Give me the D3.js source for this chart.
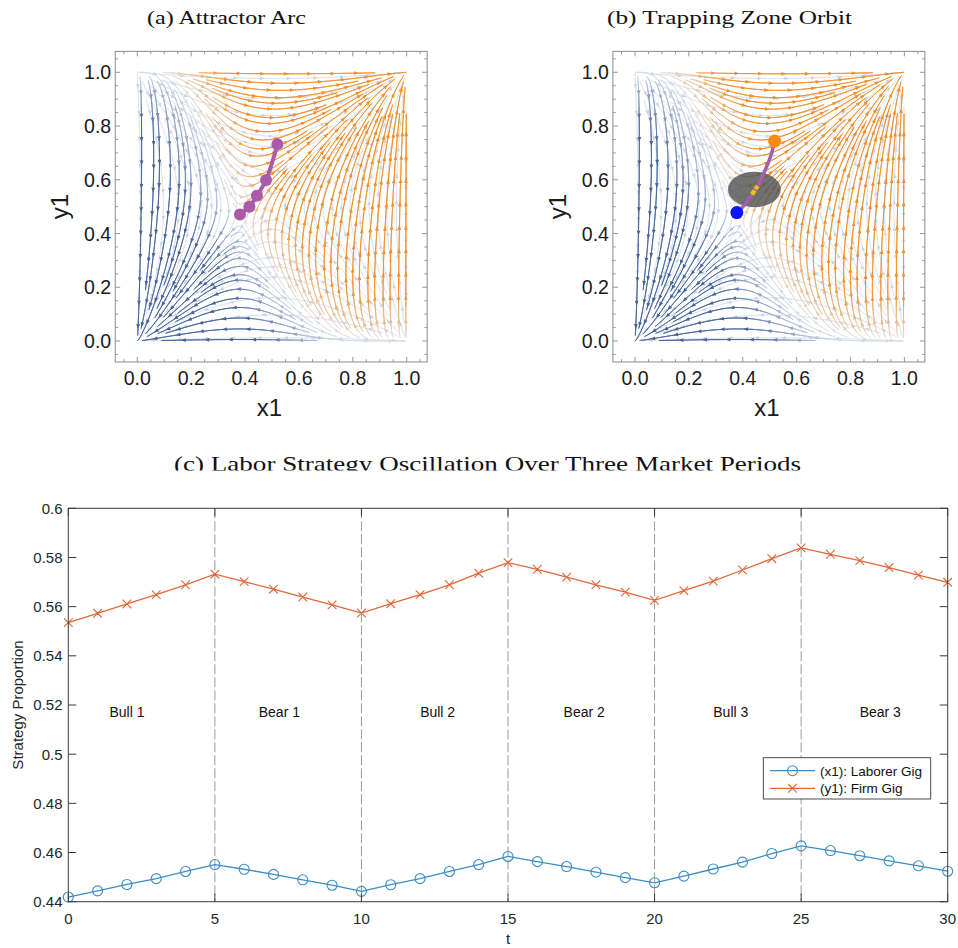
<!DOCTYPE html>
<html><head><meta charset="utf-8">
<script src="https://cdn.jsdelivr.net/npm/d3@7"></script>
<style>body{margin:0;background:#fff}svg{display:block}</style>
</head><body>
<svg id="c" width="958" height="948"></svg>
<script>
// ---------------- data ----------------
const tSteps = [0,1,2,3,4,5,6,7,8,9,10,11,12,13,14,15,16,17,18,19,20,21,22,23,24,25,26,27,28,29,30];
const laborerGig = [0.4419,0.4444,0.4470,0.4494,0.4523,0.4551,0.4532,0.4511,0.4489,0.4467,0.4442,0.4469,0.4494,0.4523,0.4551,0.4584,0.4563,0.4543,0.4520,0.4498,0.4477,0.4504,0.4533,0.4561,0.4596,0.4627,0.4608,0.4587,0.4566,0.4546,0.4524];
const firmGig = [0.5535,0.5573,0.5611,0.5649,0.5689,0.5732,0.5702,0.5671,0.5639,0.5607,0.5574,0.5612,0.5649,0.5689,0.5736,0.5779,0.5752,0.5720,0.5689,0.5659,0.5626,0.5665,0.5704,0.5749,0.5795,0.5839,0.5813,0.5787,0.5759,0.5728,0.5699];
const periodBounds = [5,10,15,20,25];
const periodLabels = ["Bull 1","Bear 1","Bull 2","Bear 2","Bull 3","Bear 3"];
const periodLabelT = [2.0,7.2,12.6,17.6,22.6,27.7];
const periodLabelY = 0.517;
const xTicksC = [0,5,10,15,20,25,30];
const yTicksC = [0.44,0.46,0.48,0.5,0.52,0.54,0.56,0.58,0.6];
const seriesNames = ["(x1): Laborer Gig","(y1): Firm Gig"];

const phaseTicks = [0,0.2,0.4,0.6,0.8,1.0];
const phaseTickLabels = ["0.0","0.2","0.4","0.6","0.8","1.0"];
const phaseMinorTicks = [-0.05,0.05,0.1,0.15,0.25,0.3,0.35,0.45,0.5,0.55,0.65,0.7,0.75,0.85,0.9,0.95,1.05];

const arcX = [0.381,0.416,0.444,0.478,0.520];
const arcY = [0.471,0.500,0.541,0.599,0.732];
const orbitX = [0.378,0.405,0.429,0.447,0.478,0.503,0.518];
const orbitY = [0.478,0.505,0.537,0.562,0.624,0.686,0.742];
const orbitStart = [0.378,0.478];
const orbitEnd = [0.518,0.744];
const trapZone = [0.443,0.564,0.098,0.066]; // cx, cy, rx, ry
const trapMarkX = [0.434,0.455];
const trapMarkY = [0.545,0.577];

// vector fields of the replicator dynamics (stream plot)
const GAIN = 2.4;
function mainField(x,y){
  const y0 = 0.445 + (0.40 - x) * (x < 0.40 ? 0.7 : 0.5);
  const x0 = 0.38 + 0.35 * Math.max(0, y - 0.5);
  return [x*(1-x)*(y-y0), GAIN*y*(1-y)*(x-x0)];
}
function paleField(x,y){ return [x*(1-x)*(y-0.5), y*(1-y)*(x-0.5)]; }

// ---------------- streamline engine ----------------
function computeStreamlines(field, dsep, dtest, h, maxSteps, minSpeed, seedRatio){
  const cell = dsep, grid = new Map();
  const key=(i,j)=>i*4096+j, ci=v=>Math.floor((v+0.05)/cell);
  function near(x,y,d){
    const i0=ci(x), j0=ci(y), r=Math.ceil(d/cell);
    for(let i=i0-r;i<=i0+r;i++) for(let j=j0-r;j<=j0+r;j++){
      const a=grid.get(key(i,j)); if(!a) continue;
      for(let n=0;n<a.length;n+=2){const dx=a[n]-x, dy=a[n+1]-y; if(dx*dx+dy*dy<d*d) return true;}
    }
    return false;
  }
  function add(x,y){const kk=key(ci(x),ci(y)); let a=grid.get(kk); if(!a){a=[];grid.set(kk,a);} a.push(x,y);}
  function unit(x,y){const f=field(x,y); const m=Math.hypot(f[0],f[1]); return [f[0]/m,f[1]/m,m];}
  function trace(x,y,sign){
    const pts=[]; let px=x,py=y;
    for(let s=0;s<maxSteps;s++){
      const a=unit(px,py); if(!(a[2]>minSpeed)) break;
      const b=unit(px+sign*a[0]*h/2, py+sign*a[1]*h/2); if(!(b[2]>minSpeed*0.5)) break;
      if(a[0]*b[0]+a[1]*b[1]<0.5) break;
      const nx=px+sign*b[0]*h, ny=py+sign*b[1]*h;
      if(nx<-0.001||nx>1.001||ny<-0.001||ny>1.001) break;
      if(near(nx,ny,dtest)) break;
      pts.push([nx,ny]); px=nx; py=ny;
    }
    return pts;
  }
  const lines=[], n=Math.round(1/dsep);
  for(let i=0;i<=n;i++) for(let j=0;j<=n;j++){
    const sx=Math.min(0.997,Math.max(0.003,i/n)), sy=Math.min(0.997,Math.max(0.003,j/n));
    if(near(sx,sy,dsep*seedRatio)) continue;
    const f=trace(sx,sy,1), b=trace(sx,sy,-1);
    const pts=b.reverse().concat([[sx,sy]],f);
    if(pts.length<8) continue;
    for(const p of pts) add(p[0],p[1]);
    lines.push(pts);
  }
  return lines;
}
function basin(field,x,y){
  let px=x,py=y;
  for(let s=0;s<3000;s++){
    const f=field(px,py), m=Math.hypot(f[0],f[1]); if(m<1e-7) break;
    px=Math.min(1,Math.max(0,px+f[0]/m*0.004)); py=Math.min(1,Math.max(0,py+f[1]/m*0.004));
    if(px+py<0.06) return 0; if(px+py>1.94) return 1;
  }
  return px+py>1?1:0;
}
// saddle + stable manifold (separatrix) for colour shading
function jac(field,x,y){
  const e=1e-5, f=field(x,y), fx=field(x+e,y), fy=field(x,y+e);
  return [f,(fx[0]-f[0])/e,(fy[0]-f[0])/e,(fx[1]-f[1])/e,(fy[1]-f[1])/e];
}
function findSaddle(field,x,y){
  for(let k=0;k<40;k++){
    const [f,a,b,c,d]=jac(field,x,y), det=a*d-b*c; if(Math.abs(det)<1e-12) break;
    x-=( d*f[0]-b*f[1])/det; y-=(-c*f[0]+a*f[1])/det;
  }
  return [x,y];
}
const saddle=findSaddle(mainField,0.38,0.47);
function stableManifold(field,s){
  const [f,a,b,c,d]=jac(field,s[0],s[1]);
  const tr=a+d, det=a*d-b*c, lam=tr/2-Math.sqrt(tr*tr/4-det);
  let vx=b, vy=lam-a; const m=Math.hypot(vx,vy); vx/=m; vy/=m;
  const pts=[s];
  for(const sg of [1,-1]){
    let px=s[0]+sg*vx*0.004, py=s[1]+sg*vy*0.004;
    for(let k=0;k<1500;k++){
      const g=field(px,py), mm=Math.hypot(g[0],g[1]); if(mm<1e-9) break;
      px-=g[0]/mm*0.002; py-=g[1]/mm*0.002;
      if(px<0||px>1||py<0||py>1) break;
      pts.push([px,py]);
    }
  }
  return pts;
}
const sepPts=stableManifold(mainField,saddle);
const DG=120, distGrid=new Float32Array((DG+1)*(DG+1));
for(let i=0;i<=DG;i++) for(let j=0;j<=DG;j++){
  const x=i/DG, y=j/DG; let md=9;
  for(let k=0;k<sepPts.length;k+=2){const dx=sepPts[k][0]-x, dy=sepPts[k][1]-y, dd=dx*dx+dy*dy; if(dd<md) md=dd;}
  distGrid[i*(DG+1)+j]=Math.sqrt(md);
}
function sepDist(x,y){
  const i=Math.max(0,Math.min(DG,Math.round(x*DG))), j=Math.max(0,Math.min(DG,Math.round(y*DG)));
  return distGrid[i*(DG+1)+j];
}

const LEVELS=10;
const mainLines = computeStreamlines(mainField, 0.027, 0.011, 0.003, 900, 0.0012, 0.7).map(pts=>{
  const last=pts[pts.length-1];
  return {pts, hue:basin(mainField,last[0],last[1])};
});
const paleLines = computeStreamlines(paleField, 0.034, 0.015, 0.003, 900, 0.0012, 0.9);
const hueBase=["#45649b","#f0902a"], paleCol="#e3e8ef";
const levelColor=(h,l)=>d3.interpolateRgb(paleCol,hueBase[h])(0.08+0.92*l/(LEVELS-1));
function levelOf(x,y){
  const s=Math.max(0,Math.min(1,(sepDist(x,y)-0.015)/0.17));
  return Math.round(Math.pow(s,0.85)*(LEVELS-1));
}

// ---------------- drawing ----------------
const svg=d3.select("#c");
const SANS="'Liberation Sans', Arial, Helvetica, sans-serif";
const SERIF="'Liberation Serif','DejaVu Serif',serif";

function phasePanel(x0px, title, titleX, titleLen, extras){
  const xs=d3.scaleLinear().domain([0,1]).range([x0px, x0px+269.4]);
  const ys=d3.scaleLinear().domain([0,1]).range([341,72.3]);
  const g=svg.append("g");
  const fx0=xs(-0.082), fx1=xs(1.076), fy0=ys(1.078), fy1=ys(-0.078);
  const line=d3.line().x(p=>xs(p[0])).y(p=>ys(p[1]));
  // pale stream layer
  let pd="", pa="";
  for(const pts of paleLines){
    pd+=line(pts);
    let acc=10;
    for(let i=1;i<pts.length-2;i++){
      const X0=xs(pts[i-1][0]),Y0=ys(pts[i-1][1]),X1=xs(pts[i][0]),Y1=ys(pts[i][1]);
      const sg=Math.hypot(X1-X0,Y1-Y0); acc+=sg;
      if(acc>=26){acc=0; const ux=(X1-X0)/sg, uy=(Y1-Y0)/sg, bx=X1-ux*4.5, by=Y1-uy*4.5;
        pa+=`M${X1.toFixed(1)},${Y1.toFixed(1)}L${(bx-uy*1.8).toFixed(1)},${(by+ux*1.8).toFixed(1)}L${(bx+uy*1.8).toFixed(1)},${(by-ux*1.8).toFixed(1)}Z`;}
    }
  }
  g.append("path").attr("d",pd).attr("fill","none").attr("stroke","#d6deea").attr("stroke-width",1);
  g.append("path").attr("d",pa).attr("fill","#cbd5e3");
  // main stream layer, bucketed by colour level
  const segs={}, arrs={};
  for(const L of mainLines){
    const pts=L.pts; let acc=4;
    for(let i=1;i<pts.length;i++){
      const mx=(pts[i-1][0]+pts[i][0])/2, my=(pts[i-1][1]+pts[i][1])/2;
      const k=L.hue+"_"+levelOf(mx,my);
      const X0=xs(pts[i-1][0]),Y0=ys(pts[i-1][1]),X1=xs(pts[i][0]),Y1=ys(pts[i][1]);
      segs[k]=(segs[k]||"")+`M${X0.toFixed(2)},${Y0.toFixed(2)}L${X1.toFixed(2)},${Y1.toFixed(2)}`;
      const sg=Math.hypot(X1-X0,Y1-Y0); acc+=sg;
      if(acc>=23 && i<pts.length-2){acc=0; const ux=(X1-X0)/sg, uy=(Y1-Y0)/sg, bx=X1-ux*4.8, by=Y1-uy*4.8;
        arrs[k]=(arrs[k]||"")+`M${X1.toFixed(2)},${Y1.toFixed(2)}L${(bx-uy*1.9).toFixed(2)},${(by+ux*1.9).toFixed(2)}L${(bx+uy*1.9).toFixed(2)},${(by-ux*1.9).toFixed(2)}Z`;}
    }
  }
  const keys=Object.keys(segs).sort((a,b)=>(+a.split("_")[1])-(+b.split("_")[1]));
  const sl=g.append("g");
  for(const k of keys){
    const [h,l]=k.split("_").map(Number), col=levelColor(h,l);
    sl.append("path").attr("d",segs[k]).attr("fill","none").attr("stroke",col).attr("stroke-width",0.9).attr("stroke-linecap","round");
    if(arrs[k]) sl.append("path").attr("d",arrs[k]).attr("fill",col);
  }
  extras(g,xs,ys);
  // frame and ticks
  g.append("rect").attr("x",fx0).attr("y",fy0).attr("width",fx1-fx0).attr("height",fy1-fy0).attr("fill","none").attr("stroke","#8c8c8c").attr("stroke-width",1);
  const tk=g.append("g").attr("stroke","#8c8c8c").attr("stroke-width",0.9);
  const addT=(vals,len)=>{for(const v of vals){
    tk.append("line").attr("x1",xs(v)).attr("x2",xs(v)).attr("y1",fy1).attr("y2",fy1-len);
    tk.append("line").attr("x1",xs(v)).attr("x2",xs(v)).attr("y1",fy0).attr("y2",fy0+len);
    tk.append("line").attr("y1",ys(v)).attr("y2",ys(v)).attr("x1",fx0).attr("x2",fx0+len);
    tk.append("line").attr("y1",ys(v)).attr("y2",ys(v)).attr("x1",fx1).attr("x2",fx1-len);
  }};
  addT(phaseTicks,5); addT(phaseMinorTicks,2.8);
  const lab=g.append("g").attr("font-family",SANS).attr("font-size",19.5).attr("fill","#1a1a1a");
  phaseTicks.forEach((v,i)=>{
    lab.append("text").attr("x",xs(v)).attr("y",385).attr("text-anchor","middle").text(phaseTickLabels[i]);
    lab.append("text").attr("x",fx0-4).attr("y",ys(v)).attr("dy","0.36em").attr("text-anchor","end").text(phaseTickLabels[i]);
  });
  g.append("text").attr("x",xs(0.49)).attr("y",416).attr("text-anchor","middle").attr("font-family",SANS).attr("font-size",24).attr("fill","#1a1a1a").text("x1");
  g.append("text").attr("transform",`translate(${x0px-69},${ys(0.5)}) rotate(-90)`).attr("text-anchor","middle").attr("font-family",SANS).attr("font-size",24).attr("fill","#1a1a1a").text("y1");
  svg.append("text").attr("x",titleX).attr("y",24).attr("font-family",SERIF).attr("font-size",19.5).attr("fill","#111")
    .attr("textLength",titleLen).attr("lengthAdjust","spacingAndGlyphs").text(title);
}

phasePanel(137.3,"(a) Attractor Arc",147,159,(g,xs,ys)=>{
  const pts=arcX.map((x,i)=>[x,arcY[i]]);
  g.append("path").attr("d",d3.line().x(p=>xs(p[0])).y(p=>ys(p[1])).curve(d3.curveCatmullRom)(pts))
    .attr("fill","none").attr("stroke","#a95aa8").attr("stroke-width",4).attr("stroke-linecap","round");
  g.selectAll("circle.arc").data(pts).join("circle").attr("class","arc").attr("cx",p=>xs(p[0])).attr("cy",p=>ys(p[1])).attr("r",6).attr("fill","#a95aa8");
});
phasePanel(635,"(b) Trapping Zone Orbit",607,245,(g,xs,ys)=>{
  g.append("ellipse").attr("cx",xs(trapZone[0])).attr("cy",ys(trapZone[1]))
    .attr("rx",xs(trapZone[2])-xs(0)).attr("ry",ys(0)-ys(trapZone[3])).attr("fill","#4f4f4f").attr("fill-opacity",0.8);
  const pts=orbitX.map((x,i)=>[x,orbitY[i]]);
  g.append("path").attr("d",d3.line().x(p=>xs(p[0])).y(p=>ys(p[1])).curve(d3.curveCatmullRom)(pts))
    .attr("fill","none").attr("stroke","#a45fae").attr("stroke-width",3.5).attr("stroke-linecap","round");
  g.append("line").attr("x1",xs(trapMarkX[0])).attr("y1",ys(trapMarkY[0])).attr("x2",xs(trapMarkX[1])).attr("y2",ys(trapMarkY[1]))
    .attr("stroke","#f2c200").attr("stroke-width",4.5).attr("stroke-dasharray","5,1.5");
  g.append("circle").attr("cx",xs(orbitStart[0])).attr("cy",ys(orbitStart[1])).attr("r",6.5).attr("fill","#0a14ff");
  g.append("circle").attr("cx",xs(orbitEnd[0])).attr("cy",ys(orbitEnd[1])).attr("r",6.5).attr("fill","#fb8a12");
});

// ---------------- panel (c) ----------------
const xC=d3.scaleLinear().domain([0,30]).range([68.3,947.7]);
const yC=d3.scaleLinear().domain([0.44,0.6]).range([901.7,508.3]);
const gc=svg.append("g");
const cp=svg.append("defs").append("clipPath").attr("id","tclip");
cp.append("rect").attr("x",0).attr("y",430).attr("width",958).attr("height",40.5);
svg.append("text").attr("clip-path","url(#tclip)").attr("x",174).attr("y",471).attr("font-family",SERIF).attr("font-size",21.5).attr("fill","#111")
  .attr("textLength",627).attr("lengthAdjust","spacingAndGlyphs").text("(c) Labor Strategy Oscillation Over Three Market Periods");

gc.selectAll("line.pb").data(periodBounds).join("line").attr("class","pb")
  .attr("x1",d=>xC(d)).attr("x2",d=>xC(d)).attr("y1",yC(0.6)).attr("y2",yC(0.44))
  .attr("stroke","#8f8f8f").attr("stroke-width",0.9).attr("stroke-dasharray","10,3");
gc.selectAll("text.pl").data(periodLabels).join("text").attr("class","pl")
  .attr("x",(d,i)=>xC(periodLabelT[i])).attr("y",yC(periodLabelY)).attr("dy","0.35em").attr("text-anchor","middle")
  .attr("font-family",SANS).attr("font-size",14).attr("fill","#111").text(d=>d);

const BLUE="#3b8dc5", RED="#e0693a";
const lineC=d3.line().x((d,i)=>xC(tSteps[i])).y(d=>yC(d));
gc.append("path").attr("d",lineC(laborerGig)).attr("fill","none").attr("stroke",BLUE).attr("stroke-width",1.3);
gc.append("path").attr("d",lineC(firmGig)).attr("fill","none").attr("stroke",RED).attr("stroke-width",1.3);
gc.selectAll("circle.m").data(laborerGig).join("circle").attr("class","m")
  .attr("cx",(d,i)=>xC(tSteps[i])).attr("cy",d=>yC(d)).attr("r",5).attr("fill","none").attr("stroke",BLUE).attr("stroke-width",1.1);
const xm=(cx,cy,s)=>`M${cx-s},${cy-s}L${cx+s},${cy+s}M${cx-s},${cy+s}L${cx+s},${cy-s}`;
gc.append("path").attr("d",firmGig.map((d,i)=>xm(xC(tSteps[i]),yC(d),4.3)).join("")).attr("stroke",RED).attr("stroke-width",1.1).attr("fill","none");

// axes box and ticks
const AX="#3a3a3a";
gc.append("rect").attr("x",xC(0)).attr("y",yC(0.6)).attr("width",xC(30)-xC(0)).attr("height",yC(0.44)-yC(0.6)).attr("fill","none").attr("stroke",AX).attr("stroke-width",1);
const tkc=gc.append("g").attr("stroke",AX).attr("stroke-width",1);
xTicksC.forEach(v=>{
  tkc.append("line").attr("x1",xC(v)).attr("x2",xC(v)).attr("y1",yC(0.44)).attr("y2",yC(0.44)-8);
  tkc.append("line").attr("x1",xC(v)).attr("x2",xC(v)).attr("y1",yC(0.6)).attr("y2",yC(0.6)+8);
});
yTicksC.forEach(v=>{
  tkc.append("line").attr("x1",xC(0)).attr("x2",xC(0)+8).attr("y1",yC(v)).attr("y2",yC(v));
  tkc.append("line").attr("x1",xC(30)).attr("x2",xC(30)-8).attr("y1",yC(v)).attr("y2",yC(v));
});
const lc=gc.append("g").attr("font-family",SANS).attr("font-size",15).attr("fill","#262626");
xTicksC.forEach(v=>lc.append("text").attr("x",xC(v)).attr("y",924).attr("text-anchor","middle").text(v));
yTicksC.forEach(v=>lc.append("text").attr("x",62.5).attr("y",yC(v)).attr("dy","0.36em").attr("text-anchor","end").text(String(+v.toFixed(2))));
gc.append("text").attr("x",xC(15)).attr("y",944).attr("text-anchor","middle").attr("font-family",SANS).attr("font-size",15).attr("fill","#262626").text("t");
gc.append("text").attr("transform",`translate(23,${(yC(0.44)+yC(0.6))/2}) rotate(-90)`).attr("text-anchor","middle").attr("font-family",SANS).attr("font-size",15).attr("fill","#262626").text("Strategy Proportion");

// legend
const lgd=gc.append("g");
lgd.append("rect").attr("x",763.3).attr("y",757.7).attr("width",167.4).attr("height",41.3).attr("fill","#fff").attr("stroke","#3a3a3a").attr("stroke-width",0.9);
[BLUE,RED].forEach((c,i)=>{
  const yy=770.7+i*17.6;
  lgd.append("line").attr("x1",770).attr("x2",815).attr("y1",yy).attr("y2",yy).attr("stroke",c).attr("stroke-width",1.3);
  if(i===0) lgd.append("circle").attr("cx",792.5).attr("cy",yy).attr("r",5).attr("fill","none").attr("stroke",c).attr("stroke-width",1.1);
  else lgd.append("path").attr("d",xm(792.5,yy,4.3)).attr("stroke",c).attr("stroke-width",1.1);
  lgd.append("text").attr("x",820).attr("y",yy).attr("dy","0.36em").attr("font-family",SANS).attr("font-size",13.5).attr("fill","#111").text(seriesNames[i]);
});
</script>
</body></html>
